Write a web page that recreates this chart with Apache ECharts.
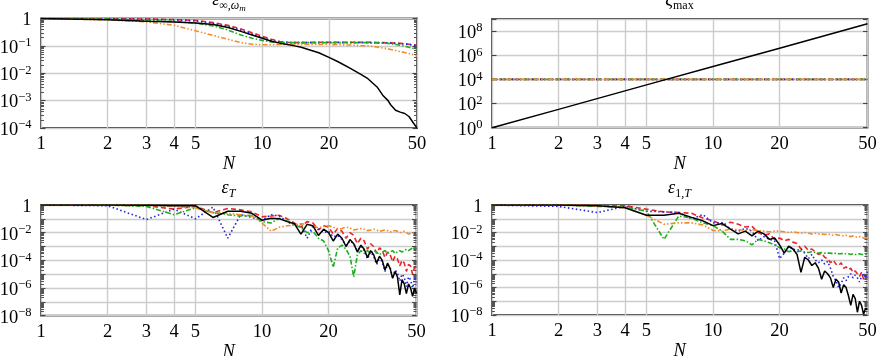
<!DOCTYPE html>
<html><head><meta charset="utf-8">
<script src="https://cdn.jsdelivr.net/npm/echarts@6/dist/echarts.min.js"></script>
<style>html,body{margin:0;padding:0;background:#fff}#c{width:885px;height:356px}</style>
</head><body><div id="c"></div>
<script>
// ---------- data (y values stored as log10 exponents) ----------
const xTicks = [1, 2, 3, 4, 5, 10, 20, 50];

// top-left: eps_{inf,omega_m}
const N_TL = [1,2,3,4,5,6,7,8,9,10,11,12,13,14,15,16,18,20,22,25,28,30,33,35,37,38,40,42,44,46,48,50];
const tl_black  = [0,-0.05,-0.1,-0.13,-0.16,-0.22,-0.33,-0.47,-0.6,-0.72,-0.83,-0.9,-0.95,-1.0,-1.05,-1.12,-1.25,-1.42,-1.58,-1.82,-2.05,-2.2,-2.5,-2.8,-3.0,-3.15,-3.35,-3.42,-3.47,-3.58,-3.8,-4.0];
const tl_red    = [0,-0.01,-0.02,-0.04,-0.07,-0.15,-0.25,-0.38,-0.52,-0.65,-0.76,-0.84,-0.87,-0.88,-0.88,-0.88,-0.87,-0.87,-0.87,-0.87,-0.87,-0.87,-0.88,-0.88,-0.89,-0.89,-0.9,-0.91,-0.92,-0.94,-0.96,-0.98];
const tl_blue   = [0,-0.01,-0.03,-0.05,-0.09,-0.18,-0.29,-0.43,-0.57,-0.7,-0.8,-0.86,-0.88,-0.88,-0.88,-0.88,-0.88,-0.88,-0.88,-0.88,-0.88,-0.88,-0.88,-0.89,-0.89,-0.9,-0.91,-0.92,-0.93,-0.95,-0.97,-0.99];
const tl_green  = [0,-0.02,-0.07,-0.11,-0.17,-0.27,-0.42,-0.6,-0.72,-0.8,-0.86,-0.88,-0.88,-0.88,-0.88,-0.88,-0.88,-0.88,-0.88,-0.88,-0.88,-0.88,-0.89,-0.9,-0.91,-0.92,-0.95,-0.98,-1.01,-1.05,-1.09,-1.13];
const tl_orange = [0,-0.05,-0.12,-0.25,-0.45,-0.62,-0.76,-0.88,-0.94,-0.96,-0.96,-0.95,-0.95,-0.95,-0.95,-0.95,-0.95,-0.95,-0.96,-0.97,-0.99,-1.0,-1.04,-1.08,-1.11,-1.13,-1.17,-1.21,-1.24,-1.28,-1.32,-1.37];

// top-right: xi_max (raw values)
const N_TR = [1, 2, 5, 10, 20, 50];
const tr_black = [1, 33, 3.5e3, 1.15e5, 3.8e6, 4e8];
const N_TR_flat = [1, 50];
const tr_red = [1e4, 1e4];
const tr_blue = [1e4, 1e4];
const tr_green = [1e4, 1e4];
const tr_orange = [1e4, 1e4];

// bottom plots: N = 1..50
const N_B = [1,2,3,4,5,6,7,8,9,10,11,12,13,14,15,16,17,18,19,20,21,22,23,24,25,26,27,28,29,30,31,32,33,34,35,36,37,38,39,40,41,42,43,44,45,46,47,48,49,50];

// bottom-left: eps_T
const bl_black = [0,0,-0.02,-0.05,-0.05,-0.9,-0.45,-0.45,-0.6,-1.1,
  -0.95,-1.0,-1.2,-1.35,-2.1,-1.4,-1.5,-2.2,-1.75,-2.0,
  -2.6,-2.1,-2.4,-3.0,-2.5,-2.8,-3.4,-2.9,-3.2,-3.8,
  -3.3,-3.6,-4.2,-3.7,-4.0,-4.7,-4.2,-4.6,-5.3,-4.8,
  -5.2,-6.5,-5.4,-5.7,-6.4,-5.7,-6.0,-6.6,-6.0,-6.4];
const bl_red = [0,0,-0.05,-0.3,-0.1,-0.55,-0.25,-0.35,-0.5,-0.85,
  -0.8,-0.75,-1.0,-1.3,-1.6,-1.2,-1.3,-1.8,-1.5,-1.6,
  -2.1,-1.7,-1.9,-2.4,-2.0,-2.2,-2.8,-2.4,-2.6,-3.2,
  -2.8,-3.0,-3.5,-3.1,-3.3,-3.8,-3.4,-3.6,-4.1,-3.7,
  -3.9,-4.4,-4.0,-4.2,-4.8,-4.3,-4.4,-5.0,-4.5,-4.6];
const bl_blue = [0,-0.05,-1.05,-0.3,-1.0,-0.15,-2.4,-0.7,-0.9,-1.1,
  -0.7,-0.8,-1.2,-1.5,-1.4,-2.4,-1.5,-1.7,-2.0,-1.9,
  -2.3,-2.2,-2.5,-2.9,-2.6,-2.8,-3.3,-3.0,-3.3,-3.9,
  -3.4,-3.7,-4.3,-3.9,-4.1,-4.8,-4.3,-4.5,-5.3,-4.7,
  -4.9,-5.5,-5.0,-5.2,-5.9,-5.2,-5.4,-6.0,-5.3,-5.6];
const bl_green = [0,0,-0.1,-0.7,-0.2,-0.55,-0.7,-0.8,-0.75,-1.2,
  -1.3,-0.95,-1.15,-1.4,-1.65,-2.0,-1.9,-2.4,-2.6,-3.3,
  -4.5,-3.1,-2.9,-3.2,-3.7,-5.2,-3.6,-3.3,-3.5,-3.3,
  -3.5,-3.3,-3.4,-3.6,-3.4,-3.3,-3.5,-3.4,-3.3,-3.5,
  -3.4,-3.3,-3.4,-3.3,-3.2,-3.3,-3.2,-3.1,-3.2,-3.1];
const bl_orange = [0,0,-0.02,-0.1,-0.2,-0.55,-0.6,-0.7,-0.8,-1.3,
  -1.9,-1.6,-1.5,-1.45,-1.35,-1.4,-1.5,-1.65,-1.55,-1.5,
  -1.6,-1.75,-1.7,-1.6,-1.65,-1.8,-1.75,-1.7,-1.75,-1.85,
  -1.8,-1.75,-1.8,-1.9,-1.85,-1.8,-1.85,-1.95,-1.9,-1.85,
  -1.9,-2.0,-1.95,-1.9,-2.0,-2.1,-2.05,-2.0,-2.1,-2.05];

// bottom-right: eps_{1,T}
const br_black = [0,0,-0.05,-0.2,-0.75,-0.75,-0.6,-0.9,-1.15,-1.5,
  -1.35,-1.75,-2.1,-1.9,-2.25,-1.9,-2.1,-2.5,-2.4,-2.9,
  -3.5,-3.0,-3.2,-3.6,-4.9,-3.8,-4.0,-4.4,-4.2,-4.6,
  -5.4,-4.8,-5.0,-5.3,-6.0,-5.4,-5.6,-6.4,-5.8,-6.0,
  -6.6,-7.3,-6.5,-6.8,-7.8,-7.0,-7.3,-7.95,-7.5,-7.6];
const br_red = [0,0,-0.05,-0.05,-0.3,-0.5,-0.55,-0.6,-0.95,-1.15,
  -1.45,-1.25,-1.4,-1.6,-1.55,-2.0,-2.2,-2.1,-2.5,-2.4,
  -2.6,-2.5,-2.7,-2.8,-3.2,-3.0,-3.3,-3.2,-3.4,-3.6,
  -3.5,-3.8,-3.9,-4.2,-4.0,-4.3,-4.4,-4.2,-4.6,-4.5,
  -4.7,-4.6,-4.9,-4.8,-5.0,-5.2,-4.9,-5.4,-5.2,-5.3];
const br_blue = [0,-0.1,-0.55,-0.1,-0.45,-0.5,-0.55,-1.0,-0.7,-1.3,
  -1.3,-1.75,-1.9,-1.7,-1.9,-2.6,-2.3,-2.5,-2.6,-3.9,
  -3.5,-3.0,-3.2,-3.3,-3.2,-3.5,-3.9,-3.6,-4.0,-4.2,
  -4.0,-4.3,-4.1,-4.6,-5.2,-5.5,-6.0,-5.7,-5.3,-5.5,
  -5.2,-5.0,-5.3,-5.1,-5.3,-5.6,-5.2,-5.0,-5.3,-4.8];
const br_green = [0,0,-0.1,-0.15,-0.45,-2.5,-0.8,-0.95,-1.3,-1.5,
  -1.9,-2.5,-2.5,-2.6,-2.9,-2.5,-2.6,-2.75,-2.9,-3.1,
  -3.2,-3.4,-3.3,-3.4,-3.35,-3.4,-3.45,-3.4,-3.45,-3.5,
  -3.45,-3.5,-3.5,-3.5,-3.55,-3.5,-3.55,-3.55,-3.5,-3.55,
  -3.55,-3.6,-3.55,-3.6,-3.6,-3.55,-3.6,-3.6,-3.6,-3.6];
const br_orange = [0,0,-0.05,-0.2,-0.75,-1.4,-1.3,-1.3,-1.45,-1.85,
  -1.9,-1.75,-1.8,-1.85,-1.8,-1.85,-1.9,-1.95,-1.9,-1.9,
  -1.95,-2.0,-1.95,-2.0,-2.05,-2.0,-2.05,-2.1,-2.05,-2.1,
  -2.1,-2.15,-2.1,-2.15,-2.2,-2.15,-2.2,-2.2,-2.25,-2.2,
  -2.25,-2.3,-2.25,-2.3,-2.35,-2.3,-2.35,-2.4,-2.35,-2.4];

// ---------- styling ----------
const FONT = 'Liberation Serif';
const FS = 18.5;
const COL = {black:'#000000', red:'#e8262b', blue:'#2323e0', green:'#1fae1f', orange:'#f28c28'};
const DASH = {black:'solid', red:[5,3], blue:[1.5,2.5], green:[5,2,1.5,2], orange:[5,2,1.5,2,1.5,2]};

function fromExp(xs, ex) { return xs.map((x, i) => [x, Math.pow(10, ex[i])]); }
function fromRaw(xs, v) { return xs.map((x, i) => [x, v[i]]); }

const grids = [
  {left:41, top:18.5, width:376, height:109.5},
  {left:492, top:19, width:375.5, height:108.7},
  {left:41, top:205, width:375.5, height:110.7},
  {left:492, top:205, width:375.5, height:110}
].map(g => Object.assign(g, {show:true, containLabel:false, outerBoundsMode:'none',
  borderColor:'#3a3a3a', borderWidth:1.8, backgroundColor:'transparent'}));

const richY = {
  b: {fontFamily:FONT, fontSize:FS, color:'#000', lineHeight:19, padding:[2,0,0,0], verticalAlign:'top'},
  p: {fontFamily:FONT, fontSize:12.5, color:'#000', lineHeight:12, verticalAlign:'top'}
};
function expOf(v) { return Math.round(Math.log10(v)); }
const fmt = [
  v => { const e = expOf(v); return e === 0 ? '{b|1}' : '{b|10}{p|\u2212' + (-e) + '}'; },
  v => { const e = expOf(v); return e % 2 === 0 ? '{b|10}{p|' + e + '}' : ''; },
  v => { const e = expOf(v); if (e % 2 !== 0) return ''; return e === 0 ? '{b|1}' : '{b|10}{p|\u2212' + (-e) + '}'; },
  v => { const e = expOf(v); if (e % 2 !== 0) return ''; return e === 0 ? '{b|1}' : '{b|10}{p|\u2212' + (-e) + '}'; }
];
const yRange = [[1e-4, 1, 1, true], [1, 1e9, 2, false], [1e-8, 1, 1, true], [1e-8, 1, 1, true]];
const nameGaps = [24, 24, 21, 21];

const xAxes = grids.map((g, gi) => ({
  type:'log', logBase:10, gridIndex:gi, min:1, max:50,
  axisLine:{show:false},
  axisTick:{show:false, customValues:xTicks},
  axisLabel:{customValues:xTicks, margin:7, fontFamily:FONT, fontSize:FS, color:'#000', formatter: v => String(Math.round(v))},
  splitLine:{show:true, lineStyle:{color:'#cccccc', width:1.4}},
  name:'N', nameLocation:'middle', nameGap:nameGaps[gi],
  nameTextStyle:{fontFamily:FONT, fontStyle:'italic', fontSize:FS, color:'#000'}
}));

const yAxes = [];
grids.forEach((g, gi) => {
  const [mn, mx, iv, minor] = yRange[gi];
  const base = {
    type:'log', logBase:10, gridIndex:gi, min:mn, max:mx, interval:iv,
    axisLine:{show:false},
    axisTick:{show:true, inside:true, length:4.5, lineStyle:{color:'#444', width:1.1}},
    minorTick:{show:minor, splitNumber:9, length:3, lineStyle:{color:'#555', width:1}},
    minorSplitLine:{show:false}
  };
  yAxes.push(Object.assign({}, base, {
    position:'left',
    axisLabel:{margin:9.5, formatter:fmt[gi], rich:richY},
    splitLine:{show:true, lineStyle:{color:'#cccccc', width:1.4}}
  }));
  yAxes.push(Object.assign({}, base, {
    position:'right',
    axisLabel:{show:false},
    splitLine:{show:false}
  }));
});

function line(gi, key, data) {
  return {
    type:'line', xAxisIndex:gi, yAxisIndex:gi * 2, data:data, showSymbol:false, symbol:'none',
    silent:true, animation:false, clip:true,
    lineStyle:{color:COL[key], width:key === 'black' ? 1.5 : 1.6, type:DASH[key]}
  };
}

const series = [
  line(0,'red',fromExp(N_TL,tl_red)), line(0,'blue',fromExp(N_TL,tl_blue)),
  line(0,'green',fromExp(N_TL,tl_green)), line(0,'orange',fromExp(N_TL,tl_orange)),
  line(0,'black',fromExp(N_TL,tl_black)),
  line(1,'red',fromRaw(N_TR_flat,tr_red)), line(1,'blue',fromRaw(N_TR_flat,tr_blue)),
  line(1,'green',fromRaw(N_TR_flat,tr_green)), line(1,'orange',fromRaw(N_TR_flat,tr_orange)),
  line(1,'black',fromRaw(N_TR,tr_black)),
  line(2,'red',fromExp(N_B,bl_red)), line(2,'blue',fromExp(N_B,bl_blue)),
  line(2,'green',fromExp(N_B,bl_green)), line(2,'orange',fromExp(N_B,bl_orange)),
  line(2,'black',fromExp(N_B,bl_black)),
  line(3,'red',fromExp(N_B,br_red)), line(3,'blue',fromExp(N_B,br_blue)),
  line(3,'green',fromExp(N_B,br_green)), line(3,'orange',fromExp(N_B,br_orange)),
  line(3,'black',fromExp(N_B,br_black))
];

const richT = {
  e: {fontFamily:FONT, fontStyle:'italic', fontSize:18, color:'#000', lineHeight:19, verticalAlign:'top'},
  s: {fontFamily:FONT, fontSize:12, color:'#000', lineHeight:12, padding:[9,0,0,0], verticalAlign:'top'},
  si: {fontFamily:FONT, fontStyle:'italic', fontSize:12, color:'#000', lineHeight:12, padding:[9,0,0,0], verticalAlign:'top'},
  ss: {fontFamily:FONT, fontStyle:'italic', fontSize:9, color:'#000', lineHeight:9, padding:[13,0,0,0], verticalAlign:'top'}
};
function title(x, y, text) {
  return {type:'text', x:x, y:y, silent:true, style:{text:text, rich:richT, align:'center', verticalAlign:'top'}};
}

const chart = echarts.init(document.getElementById('c'), null, {renderer:'canvas'});
chart.setOption({
  animation:false,
  backgroundColor:'#ffffff',
  grid:grids, xAxis:xAxes, yAxis:yAxes, series:series,
  graphic:[
    title(229, -9, '{e|ε}{s|∞,}{si|ω}{ss|m}'),
    title(679.5, -9, '{e|ξ}{s|max}'),
    title(228.5, 179, '{e|ε}{si|T}'),
    title(679.5, 179, '{e|ε}{s|1,}{si|T}')
  ]
});
</script>
</body></html>
